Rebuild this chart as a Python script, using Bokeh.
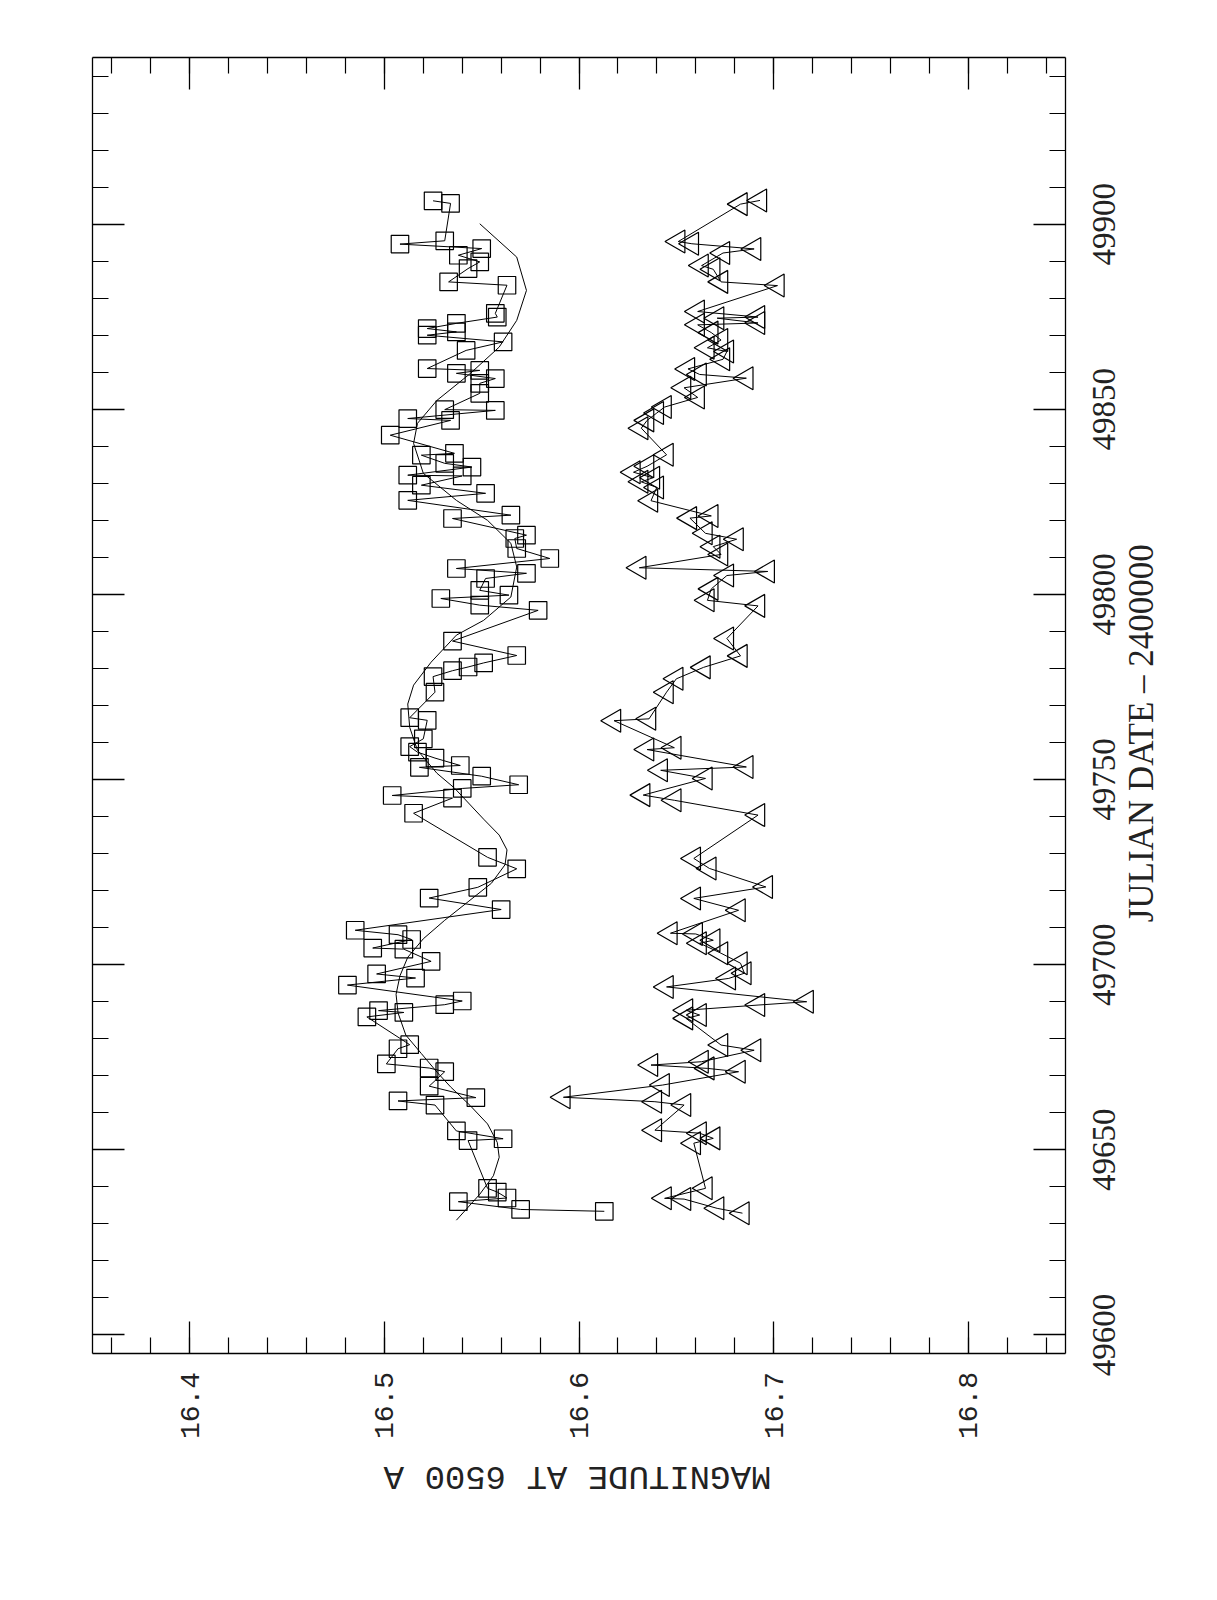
import math
from bokeh.plotting import figure
from bokeh.models import Range1d, LinearAxis, FixedTicker, ColumnDataSource, Label
from bokeh.embed import file_html
from bokeh.resources import INLINE

# ---------------- data ----------------
# squares: Julian date - 2400000, magnitude
sq_jd = [49906.3, 49905.6, 49894.6, 49895.5, 49891.6, 49893.4, 49889.8, 49888.0, 49884.4, 49883.5,
         49875.9, 49874.9, 49871.8, 49870.0, 49873.2, 49870.9, 49868.2, 49865.9, 49861.0, 49859.7,
         49860.5, 49858.3, 49857.0, 49854.3, 49849.7, 49849.9, 49847.0, 49847.5, 49843.0, 49837.6,
         49838.1, 49835.4, 49834.4, 49832.2, 49832.0, 49829.5, 49827.3, 49825.4, 49820.5, 49821.4,
         49815.1, 49816.0, 49812.4, 49809.7, 49807.0, 49805.7, 49804.3, 49798.9, 49801.1, 49799.8,
         49795.7, 49797.1, 49787.4, 49783.5, 49781.5, 49780.4, 49779.4, 49777.8, 49773.6, 49766.7,
         49766.0, 49761.0, 49758.9, 49757.4, 49753.3, 49755.8, 49753.8, 49750.9, 49747.6, 49748.6,
         49745.0, 49745.7, 49740.9, 49729.0, 49725.9, 49720.9, 49718.0, 49714.9, 49709.3, 49708.1,
         49706.8, 49704.5, 49704.2, 49700.9, 49697.5, 49696.4, 49694.5, 49690.2, 49689.2, 49687.6,
         49687.1, 49685.9, 49678.4, 49677.3, 49673.2, 49672.1, 49671.1, 49667.2, 49664.1, 49663.2,
         49662.1, 49655.1, 49653.0, 49652.5, 49639.6, 49638.6, 49637.0, 49636.0, 49633.9, 49633.4]
sq_mag = [16.525, 16.534, 16.508, 16.531, 16.538, 16.550, 16.549, 16.543, 16.533, 16.563,
          16.557, 16.558, 16.522, 16.522, 16.537, 16.537, 16.561, 16.542, 16.522, 16.537,
          16.549, 16.557, 16.549, 16.549, 16.557, 16.531, 16.534, 16.512, 16.503, 16.519,
          16.536, 16.531, 16.545, 16.512, 16.540, 16.519, 16.552, 16.512, 16.535, 16.565,
          16.567, 16.573, 16.568, 16.585, 16.537, 16.573, 16.552, 16.529, 16.549, 16.564,
          16.579, 16.549, 16.535, 16.568, 16.551, 16.543, 16.535, 16.525, 16.526, 16.513,
          16.522, 16.520, 16.513, 16.517, 16.518, 16.526, 16.539, 16.550, 16.540, 16.569,
          16.535, 16.504, 16.515, 16.553, 16.568, 16.548, 16.523, 16.560, 16.485, 16.507,
          16.514, 16.494, 16.510, 16.524, 16.496, 16.516, 16.481, 16.540, 16.531, 16.497,
          16.510, 16.491, 16.513, 16.507, 16.501, 16.523, 16.531, 16.523, 16.547, 16.507,
          16.526, 16.537, 16.561, 16.543, 16.553, 16.558, 16.563, 16.538, 16.570, 16.613]

# triangles: Julian date - 2400000, magnitude
tri_jd = [49906.4, 49905.4, 49895.3, 49894.7, 49893.3, 49892.2, 49888.8, 49887.8, 49884.4, 49883.4,
          49876.4, 49874.9, 49873.3, 49874.6, 49872.8, 49870.7, 49868.7, 49866.6, 49865.6, 49863.5,
          49860.9, 49859.4, 49858.4, 49855.8, 49853.2, 49850.6, 49849.0, 49847.0, 49844.9, 49837.7,
          49834.6, 49833.0, 49831.5, 49830.4, 49828.9, 49825.3, 49821.2, 49820.6, 49816.5, 49814.9,
          49812.9, 49810.8, 49807.2, 49806.2, 49805.1, 49801.5, 49798.4, 49796.9, 49788.1, 49783.4,
          49780.3, 49777.2, 49773.6, 49766.4, 49765.9, 49758.1, 49758.6, 49752.5, 49753.4, 49750.3,
          49745.8, 49744.4, 49740.4, 49728.7, 49726.0, 49721.0, 49717.9, 49714.7, 49708.5, 49708.3,
          49705.8, 49706.6, 49703.1, 49700.4, 49697.7, 49696.3, 49694.0, 49689.1, 49690.0, 49687.7,
          49686.4, 49685.5, 49678.3, 49676.9, 49673.8, 49672.9, 49672.0, 49671.1, 49667.5, 49664.2,
          49663.0, 49662.1, 49655.3, 49654.5, 49653.1, 49651.8, 49639.6, 49636.9, 49636.7, 49634.2,
          49632.9]
tri_mag = [16.693, 16.683, 16.651, 16.658, 16.690, 16.674, 16.663, 16.669, 16.673, 16.702,
           16.661, 16.692, 16.692, 16.671, 16.661, 16.668, 16.673, 16.666, 16.676, 16.674,
           16.656, 16.662, 16.686, 16.654, 16.661, 16.644, 16.640, 16.635, 16.632, 16.645,
           16.635, 16.628, 16.638, 16.632, 16.640, 16.637, 16.668, 16.657, 16.665, 16.681,
           16.669, 16.673, 16.631, 16.697, 16.676, 16.668, 16.666, 16.692, 16.676, 16.683,
           16.664, 16.650, 16.645, 16.636, 16.618, 16.635, 16.649, 16.642, 16.686, 16.665,
           16.633, 16.649, 16.692, 16.659, 16.667, 16.696, 16.659, 16.682, 16.647, 16.660,
           16.662, 16.669, 16.673, 16.683, 16.685, 16.677, 16.645, 16.692, 16.717, 16.655,
           16.662, 16.655, 16.673, 16.690, 16.663, 16.637, 16.666, 16.682, 16.643, 16.592,
           16.639, 16.654, 16.639, 16.662, 16.669, 16.659, 16.665, 16.644, 16.654, 16.671,
           16.684]

# fitted curve through the squares
fit_jd = [49631.0, 49638.0, 49643.0, 49648.0, 49652.0, 49657.0, 49662.0, 49667.0, 49671.0, 49676.0,
          49681.0, 49687.0, 49692.0, 49697.0, 49702.0, 49707.0, 49712.0, 49717.0, 49722.0, 49727.0,
          49731.0, 49735.0, 49739.3, 49747.7, 49751.7, 49757.9, 49764.1, 49770.4, 49775.5, 49781.7,
          49789.0, 49793.0, 49799.3, 49807.4, 49813.8, 49820.0, 49825.4, 49832.7, 49840.8, 49846.2,
          49852.4, 49859.6, 49866.8, 49874.0, 49882.1, 49891.1, 49900.1]
fit_mag = [16.537, 16.549, 16.556, 16.559, 16.558, 16.553, 16.544, 16.534, 16.527, 16.519,
           16.511, 16.507, 16.506, 16.508, 16.512, 16.520, 16.531, 16.543, 16.555, 16.562,
           16.563, 16.559, 16.551, 16.536, 16.527, 16.517, 16.513, 16.512, 16.515, 16.524,
           16.537, 16.551, 16.565, 16.568, 16.565, 16.553, 16.537, 16.520, 16.515, 16.517,
           16.527, 16.544, 16.559, 16.568, 16.573, 16.568, 16.549]

mag_ticks = [16.4, 16.5, 16.6, 16.7, 16.8]
mag_tick_labels = ["16.4", "16.5", "16.6", "16.7", "16.8"]
jd_ticks = [49600, 49650, 49700, 49750, 49800, 49850, 49900]
jd_tick_labels = ["49600", "49650", "49700", "49750", "49800", "49850", "49900"]
x_label = "MAGNITUDE AT 6500 A"
y_label = "JULIAN DATE  \u2013  2400000"

# ---------------- layout (page pixels) ----------------
X0, X1 = 16.35, 16.85          # magnitude span of the plot box
Y0, Y1 = 49595, 49945          # Julian-date span of the plot box
BOX_L, BOX_R, BOX_T, BOX_B = 92, 1065, 57, 1353
PAGE_W, PAGE_H = 1205, 1583
PAD = 8
PX_PER_MAG = (BOX_R - BOX_L) / (X1 - X0)
PX_PER_DAY = (BOX_B - BOX_T) / (Y1 - Y0)

def mag_at(px):
    return X0 + (px - BOX_L) / PX_PER_MAG

def jd_at(py):
    return Y0 + (BOX_B - py) / PX_PER_DAY

def by_date(jd, mag):
    pairs = sorted(zip(jd, mag))
    return dict(jd=[a for a, b in pairs], mag=[b for a, b in pairs])

sq = ColumnDataSource(by_date(sq_jd, sq_mag))
tri = ColumnDataSource(by_date(tri_jd, tri_mag))
fit = ColumnDataSource(dict(jd=fit_jd, mag=fit_mag))

# the frame covers nearly the whole page; the plot box is drawn by four fixed-location axes
p = figure(frame_width=PAGE_W - 2 * PAD, frame_height=PAGE_H - 2 * PAD,
           x_range=Range1d(mag_at(PAD), mag_at(PAGE_W - PAD)),
           y_range=Range1d(jd_at(PAGE_H - PAD), jd_at(PAD)),
           output_backend="svg", toolbar_location=None,
           x_axis_location=None, y_axis_location=None,
           min_border_left=PAD, min_border_right=PAD, min_border_top=PAD, min_border_bottom=PAD,
           background_fill_color="white", border_fill_color="white")
p.xgrid.visible = False
p.ygrid.visible = False
p.outline_line_color = None

mag_minor = [round(16.36 + 0.02 * i, 2) for i in range(25)]
jd_minor = [49600 + 10 * i for i in range(35)]

def box_axis(ticks, minor, loc, bounds):
    ax = LinearAxis(ticker=FixedTicker(ticks=ticks, minor_ticks=minor),
                    fixed_location=loc, bounds=bounds)
    ax.axis_line_color = "black"
    ax.axis_line_width = 1.3
    ax.major_tick_line_color = "black"
    ax.minor_tick_line_color = "black"
    ax.major_tick_line_width = 1.3
    ax.minor_tick_line_width = 1.2
    ax.major_tick_in = 32
    ax.major_tick_out = 0
    ax.minor_tick_in = 16
    ax.minor_tick_out = 0
    ax.major_label_overrides = {t: "" for t in ticks}
    ax.major_label_text_font_size = "1px"
    ax.major_label_standoff = 0
    return ax

p.add_layout(box_axis(mag_ticks, mag_minor, Y0, (X0, X1)), "below")
p.add_layout(box_axis(mag_ticks, mag_minor, Y1, (X0, X1)), "above")
p.add_layout(box_axis(jd_ticks, jd_minor, X0, (Y0, Y1)), "left")
p.add_layout(box_axis(jd_ticks, jd_minor, X1, (Y0, Y1)), "right")

TXT = "#222222"

# magnitude tick labels below the box (reading upward)
for t, s in zip(mag_ticks, mag_tick_labels):
    p.add_layout(Label(x=t, y=jd_at(1405), text=s, angle=math.pi / 2,
                       text_align="center", text_baseline="middle",
                       text_font="Liberation Mono", text_font_size="28px", text_color=TXT))

# JD tick labels right of the box (reading upward)
for t, s in zip(jd_ticks, jd_tick_labels):
    p.add_layout(Label(x=mag_at(1103), y=t, text=s, angle=math.pi / 2,
                       text_align="center", text_baseline="middle",
                       text_font="Liberation Serif", text_font_size="33px", text_color=TXT))

# axis titles
p.add_layout(Label(x=mag_at(577), y=jd_at(1475), text=x_label, angle=math.pi,
                   text_align="center", text_baseline="middle",
                   text_font="Liberation Mono", text_font_size="34px", text_color=TXT))
p.add_layout(Label(x=mag_at(1141), y=jd_at(724), text=y_label, angle=math.pi / 2,
                   text_align="center", text_baseline="middle",
                   text_font="Liberation Serif", text_font_size="35px", text_color=TXT))

# connecting lines
p.line("mag", "jd", source=sq, line_color="black", line_width=1)
p.line("mag", "jd", source=tri, line_color="black", line_width=1)
p.line("mag", "jd", source=fit, line_color="black", line_width=1)

# markers
p.scatter("mag", "jd", source=sq, marker="square", size=17.5,
          fill_color=None, line_color="black", line_width=1.2)
p.scatter("mag", "jd", source=tri, marker="triangle", angle=math.pi / 2, size=23,
          fill_color=None, line_color="black", line_width=1.2)

open("out.html", "w").write(file_html(p, INLINE, title="light curve"))
